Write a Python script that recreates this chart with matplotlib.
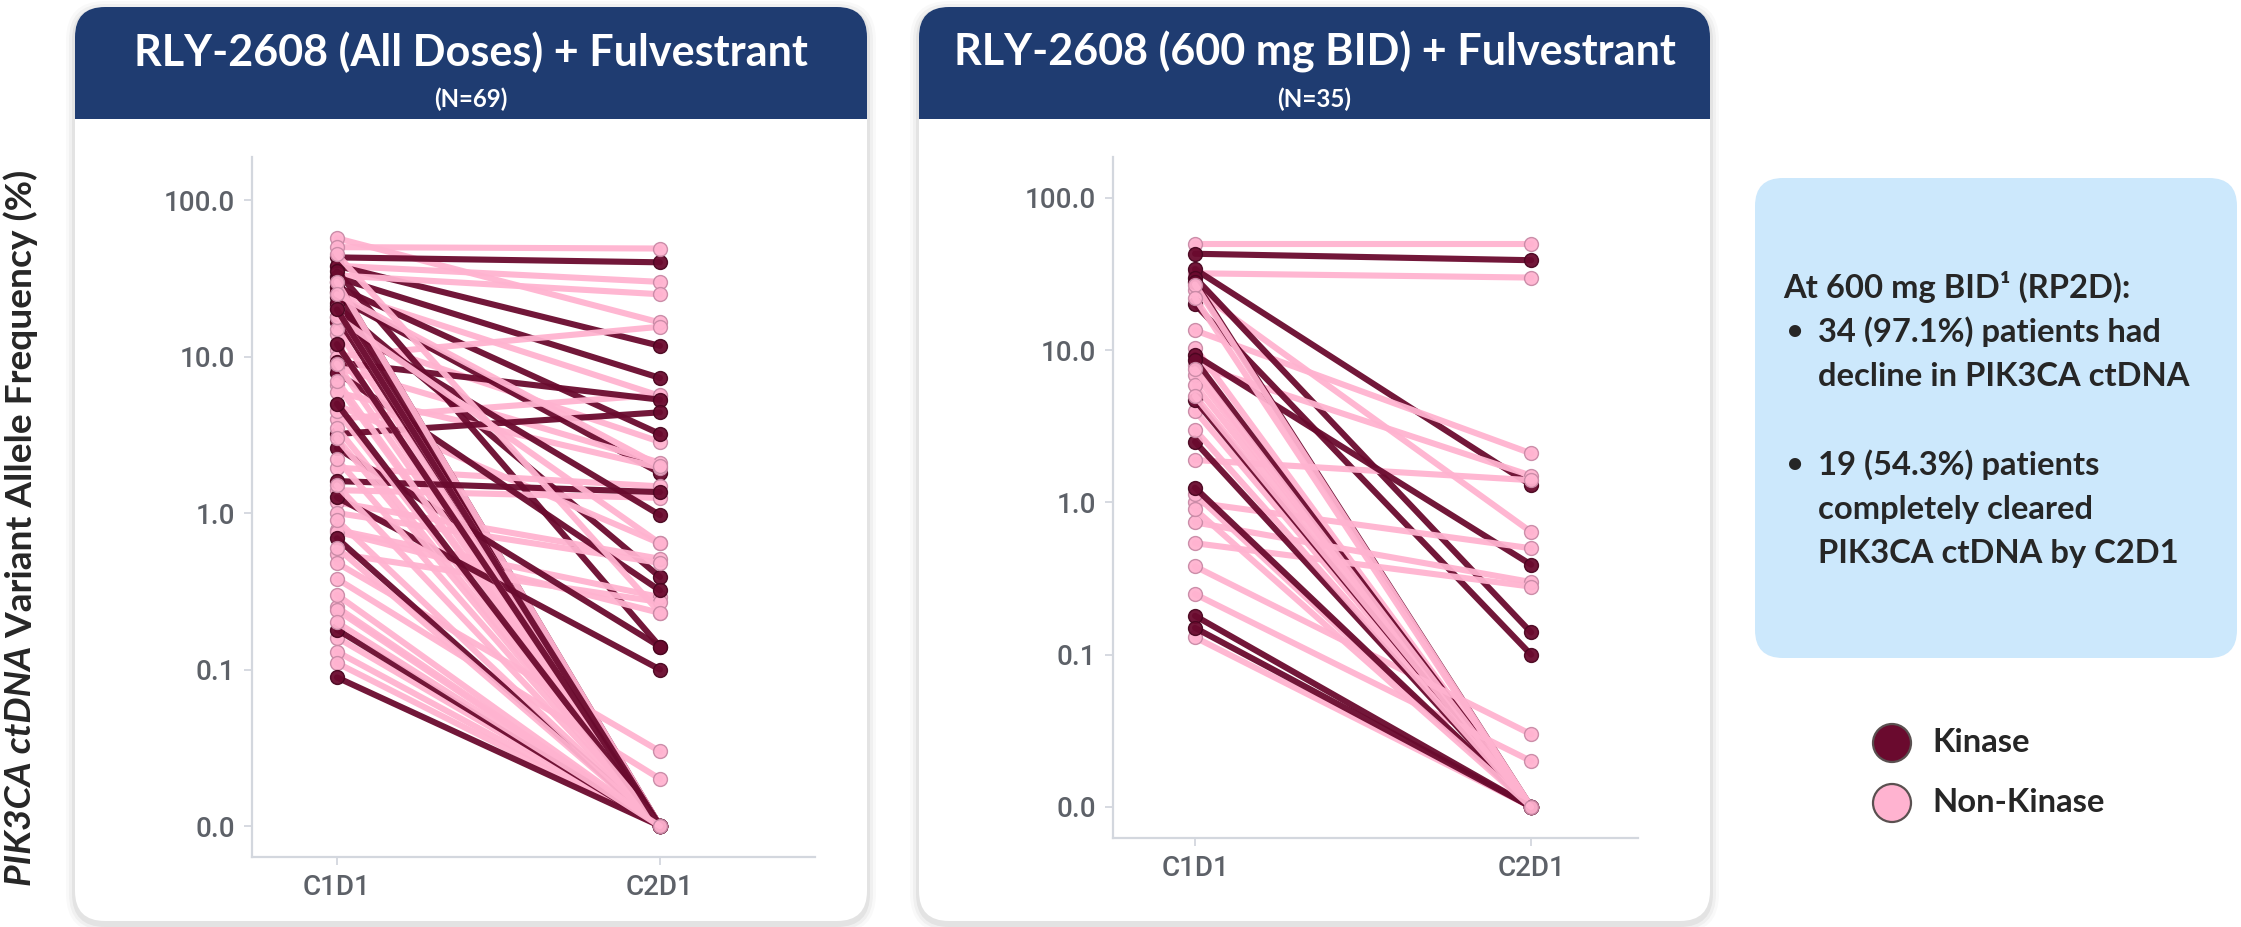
import matplotlib
matplotlib.use("Agg")
import matplotlib.pyplot as plt
from matplotlib.patches import FancyBboxPatch, Rectangle, Circle

# ── data ─────────────────────────────────────────────────────────────────────
VISITS = ["C1D1", "C2D1"]
YTICKS = [0.0, 0.1, 1.0, 10.0, 100.0]
YTICK_LABELS = ["0.0", "0.1", "1.0", "10.0", "100.0"]
ZERO_AT = 0.01          # where "0.0" sits on the log axis

# RLY-2608 all doses (N=69)
ALL_KIN_C1 = [43, 38, 32, 28, 24, 21, 35, 30, 26, 22, 18, 16.6, 9.2, 7.9, 3.2,
              2.6, 1.6, 1.26, 0.69, 0.18, 0.089, 12, 5.0, 20]
ALL_KIN_C2 = [40, 11.7, 7.3, 3.2, 1.8, 0.39, 0.14, 0, 0, 0, 0, 0.97, 5.3, 0.32,
              4.4, 0.14, 1.36, 0.10, 0, 0, 0, 0, 0, 0]
ALL_NON_C1 = [57, 50, 38, 33, 26, 14, 11, 10, 8.5, 6.6, 5.9, 4.9, 4.0, 1.95, 1.4,
              1.17, 1.0, 0.78, 0.76, 0.55, 0.48, 0.38, 0.25, 0.24, 0.16, 0.13,
              0.11, 30, 20, 15, 9.0, 7.0, 4.5, 3.5, 2.2, 1.5, 0.9, 0.6, 0.3, 12,
              45, 25, 18, 3.0, 0.2]
ALL_NON_C2 = [16.5, 49, 30, 25, 5.6, 2.85, 0, 15.5, 2.1, 0, 1.95, 0.64, 5.7,
              1.48, 1.25, 0.51, 0.48, 0.29, 0.23, 0.27, 0.03, 0.02, 0, 0, 0, 0,
              0, 0, 0, 0, 0, 0, 0, 0, 0, 0, 0, 0, 0, 0, 0.23, 2.0, 0.64, 0, 0]

# RLY-2608 600 mg BID (N=35)
BID_KIN_C1 = [43, 34, 30, 28, 20, 9.3, 8.6, 4.7, 2.5, 1.25, 0.18, 0.15]
BID_KIN_C2 = [39, 1.3, 0.14, 0, 0.10, 0.39, 0, 0, 0, 0, 0, 0]
BID_NON_C1 = [50, 32, 25, 13.5, 10.4, 8.0, 6.9, 5.9, 4.0, 1.9, 1.0, 1.13, 0.74,
              0.54, 0.38, 0.25, 0.13, 27, 22, 7.5, 5.0, 3.0, 0.9]
BID_NON_C2 = [50, 30, 0.64, 2.1, 0, 1.5, 0, 0, 0, 1.4, 0.5, 0, 0.30, 0.28, 0.03,
              0.02, 0, 0, 0, 0, 0, 0, 0]

TITLES = ["RLY-2608 (All Doses) + Fulvestrant", "RLY-2608 (600 mg BID) + Fulvestrant"]
SUBTITLES = ["(N=69)", "(N=35)"]
INFO_HEAD = "At 600 mg BID¹ (RP2D):"
INFO_BULLETS = [["34 (97.1%) patients had", "decline in PIK3CA ctDNA"],
                ["19 (54.3%) patients", "completely cleared", "PIK3CA ctDNA by C2D1"]]
LEGEND = ["Kinase", "Non-Kinase"]

# ── style ────────────────────────────────────────────────────────────────────
KIN = "#6a0a2e"
KIN_EDGE = "#4a0620"
NON = "#ffb3d0"
NON_EDGE = "#c98aa6"
NAVY = "#1f3c71"
BOX = "#cce8fc"
DARK = "#262626"
TICK = "#5d6168"
SPINE = "#d3d7de"

W, H = 2241, 927
fig = plt.figure(figsize=(W / 100, H / 100), dpi=100)
fig.patch.set_facecolor("white")
bg = fig.add_axes([0, 0, 1, 1])
bg.set_xlim(0, W); bg.set_ylim(H, 0); bg.axis("off")
renderer = fig.canvas.get_renderer()


def fit(t, width=None, height=None):
    """scale font so the text spans the given pixel width (or height)."""
    bb = t.get_window_extent(renderer)
    size = t.get_fontsize()
    if width is not None:
        t.set_fontsize(size * width / bb.width)
    else:
        t.set_fontsize(size * height / bb.height)
    return t


def card(x0, x1, y0=7, y1=921, hdr=119, r=30):
    w = x1 - x0
    for pad, a in [(9, 0.025), (6, 0.035), (3, 0.05)]:
        bg.add_patch(FancyBboxPatch((x0 - pad, y0 - pad + 3), w + 2 * pad, y1 - y0 + 2 * pad,
                                    boxstyle=f"round,pad=0,rounding_size={r + pad}",
                                    fc="black", ec="none", alpha=a))
    bg.add_patch(FancyBboxPatch((x0, y0), w, y1 - y0, boxstyle=f"round,pad=0,rounding_size={r}",
                                fc="white", ec="none"))
    bg.add_patch(FancyBboxPatch((x0, y0), w, hdr - y0, boxstyle=f"round,pad=0,rounding_size={r}",
                                fc=NAVY, ec="none"))
    bg.add_patch(Rectangle((x0, y0 + r + 10), w, hdr - y0 - r - 10, fc=NAVY, ec="none"))


CARDS = [(75, 867), (919, 1710)]
for (x0, x1) in CARDS:
    card(x0, x1)

title_size = None
for i, (x0, x1) in enumerate(CARDS):
    cx = (x0 + x1) / 2
    t = bg.text(cx, 52, TITLES[i], ha="center", va="center", color="white",
                family="Lato", weight="bold", fontsize=28)
    if title_size is None:
        fit(t, width=672)
        title_size = t.get_fontsize()
    t.set_fontsize(title_size)
    s = bg.text(cx, 99, SUBTITLES[i], ha="center", va="center", color="white",
                family="Lato", weight="bold", fontsize=14)
    fit(s, width=74)


# ── panels ───────────────────────────────────────────────────────────────────
def pos(v):
    return v if v > 0 else ZERO_AT


def panel(rect, ylim, xlim, kin1, kin2, non1, non2):
    ax = fig.add_axes(rect)
    ax.set_facecolor("none")
    ax.set_yscale("log")
    # spread the two groups evenly through the drawing order
    items = [(i / len(non1), non1[i], non2[i], NON, NON_EDGE) for i in range(len(non1))]
    items += [(i / len(kin1) + 0.01, kin1[i], kin2[i], KIN, KIN_EDGE) for i in range(len(kin1))]
    items.sort(key=lambda it: it[0])
    for _, c1, c2, col, ec in items:
        ax.plot([0, 1], [pos(c1), pos(c2)], color=col, lw=4.4,
                solid_capstyle="round", marker="o", ms=10, mfc=col, mec=ec,
                mew=1.0, alpha=0.95)
    ax.set_ylim(*ylim)
    ax.set_xlim(*xlim)
    ax.set_yticks([pos(v) for v in YTICKS])
    ax.set_yticklabels(YTICK_LABELS)
    ax.minorticks_off()
    ax.set_xticks([0, 1])
    ax.set_xticklabels(VISITS)
    for sp in ["top", "right"]:
        ax.spines[sp].set_visible(False)
    for sp in ["left", "bottom"]:
        ax.spines[sp].set_color(SPINE)
        ax.spines[sp].set_linewidth(1.6)
    ax.tick_params(axis="both", length=6, width=1.3, color=SPINE, labelcolor=TICK,
                   labelsize=20, pad=6)
    for lab in ax.get_xticklabels() + ax.get_yticklabels():
        lab.set_family("Roboto")
        lab.set_fontweight("medium")
    return ax


def frac(l, r, t, b):
    return [l / W, (H - b) / H, (r - l) / W, (b - t) / H]


panel(frac(252, 815, 157, 857), (10 ** -2.198, 10 ** 2.275), (-0.263, 1.48),
      ALL_KIN_C1, ALL_KIN_C2, ALL_NON_C1, ALL_NON_C2)
panel(frac(1113, 1638, 157, 838), (10 ** -2.204, 10 ** 2.269), (-0.244, 1.318),
      BID_KIN_C1, BID_KIN_C2, BID_NON_C1, BID_NON_C2)

# ── y label: italic "PIK3CA ctDNA" + regular rest, rotated ──────────────────
yl1 = bg.text(21, 886, "PIK3CA ctDNA", rotation=90, ha="center", va="bottom",
              family="Lato", weight="bold", style="italic", color=DARK, fontsize=20)
yl2 = bg.text(21, 0, " Variant Allele Frequency (%)", rotation=90, ha="center", va="bottom",
              family="Lato", weight="bold", color=DARK, fontsize=20)
h1 = yl1.get_window_extent(renderer).height
h2 = yl2.get_window_extent(renderer).height
k = 717 / (h1 + h2)
yl1.set_fontsize(20 * k); yl2.set_fontsize(20 * k)
h1 = yl1.get_window_extent(renderer).height
yl2.set_y(886 - h1)

# ── info box ─────────────────────────────────────────────────────────────────
bg.add_patch(FancyBboxPatch((1755, 178), 482, 480, boxstyle="round,pad=0,rounding_size=28",
                            fc=BOX, ec="none"))
probe = bg.text(1820, 377, INFO_BULLETS[0][1], ha="left", va="center", color=DARK,
                family="Lato", weight="bold", fontsize=20)
fit(probe, width=372)
info_size = probe.get_fontsize()
probe.remove()
bg.text(1783, 287, INFO_HEAD, ha="left", va="center", color=DARK,
        family="Lato", weight="bold", fontsize=info_size)
line_y = [[332, 377], [465, 510, 553]]
for lines, ys in zip(INFO_BULLETS, line_y):
    bg.text(1787, ys[0], "•", ha="left", va="center", color=DARK,
            family="Lato", weight="bold", fontsize=info_size * 0.85)
    for s, y in zip(lines, ys):
        bg.text(1818, y, s, ha="left", va="center", color=DARK,
                family="Lato", weight="bold", fontsize=info_size)

# ── legend ───────────────────────────────────────────────────────────────────
for lab, col, y in zip(LEGEND, [KIN, NON], [743, 803]):
    bg.add_patch(Circle((1892, y), 19, fc=col, ec="#5a5050", lw=1.6))
    bg.text(1932, y, lab, ha="left", va="center", color=DARK,
            family="Lato", weight="bold", fontsize=info_size)

fig.savefig("out.png", dpi=100)
